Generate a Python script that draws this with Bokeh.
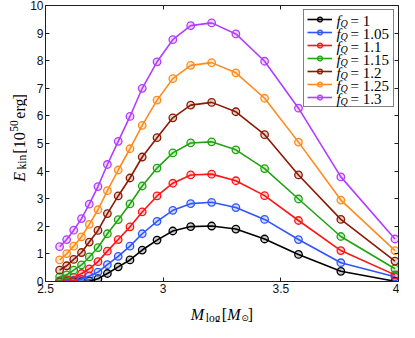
import math
from bokeh.plotting import figure
from bokeh.layouts import column, row
from bokeh.models import (Range1d, LinearAxis, FixedTicker, NumeralTickFormatter,
                          Legend, LegendItem, Label, ColumnDataSource)
from bokeh.core.properties import value
from bokeh.embed import file_html
from bokeh.resources import INLINE

# ---------------- data ----------------
m_log = [2.560, 2.590, 2.620, 2.653, 2.686, 2.723, 2.763, 2.809, 2.859, 2.911,
         2.974, 3.041, 3.117, 3.206, 3.309, 3.431, 3.575, 3.755, 3.985]

e_fq100 = [0.00, 0.00, 0.00, 0.00, 0.02, 0.10, 0.29, 0.53, 0.78, 1.14,
           1.50, 1.83, 1.99, 2.01, 1.90, 1.54, 0.98, 0.37, 0.01]
e_fq105 = [0.02, 0.03, 0.05, 0.08, 0.20, 0.34, 0.61, 0.91, 1.28, 1.73,
           2.18, 2.58, 2.82, 2.87, 2.68, 2.25, 1.52, 0.68, 0.17]
e_fq110 = [0.01, 0.07, 0.15, 0.29, 0.46, 0.72, 1.10, 1.52, 1.98, 2.52,
           3.10, 3.56, 3.86, 3.89, 3.65, 3.11, 2.21, 1.12, 0.24]
e_fq115 = [0.17, 0.24, 0.41, 0.60, 0.89, 1.23, 1.73, 2.24, 2.81, 3.46,
           4.11, 4.66, 5.02, 5.06, 4.77, 4.09, 2.99, 1.63, 0.46]
e_fq120 = [0.41, 0.57, 0.80, 1.05, 1.43, 1.85, 2.46, 3.10, 3.75, 4.51,
           5.21, 5.93, 6.39, 6.49, 6.15, 5.32, 3.86, 2.25, 0.74]
e_fq125 = [0.78, 1.01, 1.28, 1.62, 2.07, 2.60, 3.29, 4.04, 4.81, 5.66,
           6.57, 7.35, 7.83, 7.93, 7.56, 6.64, 5.05, 2.95, 1.12]
e_fq130 = [1.26, 1.52, 1.86, 2.28, 2.80, 3.44, 4.24, 5.08, 5.98, 7.00,
           7.96, 8.76, 9.27, 9.37, 8.97, 7.98, 6.28, 3.79, 1.54]

fq_labels = ["1", "1.05", "1.1", "1.15", "1.2", "1.25", "1.3"]
series = [e_fq100, e_fq105, e_fq110, e_fq115, e_fq120, e_fq125, e_fq130]
colors = ["#000000", "#2f55ff", "#ff1414", "#22a312", "#8a1a02", "#ff8a1e", "#b23cff"]

x_ticks = [2.5, 3, 3.5, 4]
y_ticks = [0, 1, 2, 3, 4, 5, 6, 7, 8, 9, 10]

# ---------------- layout ----------------
YLW = 27            # width of the y-label strip
XLH = 24            # height of the x-label strip
W, H = 399 - YLW, 322 - XLH
ML, MR, MT, MB = 16, 1, 5, 17
FW, FH = W - ML - MR, H - MT - MB
AX = "#1e1e1e"
SERIF = "Liberation Serif"

p = figure(width=W, height=H, x_range=Range1d(2.5, 4), y_range=Range1d(0, 10),
           output_backend="svg", toolbar_location=None,
           x_axis_location=None, y_axis_location=None,
           min_border_left=ML, min_border_right=MR, min_border_top=MT, min_border_bottom=MB)
p.outline_line_color = None
for g in list(p.xgrid) + list(p.ygrid):
    g.visible = False


def make_axis(ticks, show):
    ax = LinearAxis(ticker=FixedTicker(ticks=ticks),
                    formatter=NumeralTickFormatter(format="0.[0]"),
                    axis_line_color=AX, axis_line_width=1,
                    major_tick_line_color=AX, major_tick_in=4, major_tick_out=0,
                    minor_tick_line_color=None,
                    major_label_text_font="Liberation Sans",
                    major_label_text_font_size="12px",
                    major_label_text_color="#111111",
                    major_label_standoff=2)
    if not show:
        ax.major_label_text_color = None
        ax.major_label_text_font_size = "1px"
        ax.major_label_standoff = 0
    return ax


p.add_layout(make_axis(x_ticks, True), "below")
p.add_layout(make_axis(y_ticks, True), "left")
p.add_layout(make_axis(x_ticks, False), "above")
p.add_layout(make_axis(y_ticks, False), "right")

items = []
for vals, col in zip(series, colors):
    src = ColumnDataSource(dict(x=m_log, y=vals))
    lr = p.line("x", "y", source=src, line_color=col, line_width=1.6)
    sr = p.scatter("x", "y", source=src, marker="circle", size=7.5,
                   line_color=col, line_width=1.3, fill_color=col, fill_alpha=0.2)
    items.append(LegendItem(label=value(" "), renderers=[lr, sr]))

leg = Legend(items=items, location="top_right", margin=4, padding=3, spacing=1,
             glyph_width=25, glyph_height=12, label_height=12, label_width=56,
             label_standoff=2, label_text_font_size="8px",
             border_line_color="black", border_line_width=1,
             background_fill_alpha=0.0)
p.add_layout(leg)


def lab(fig, text, x, y, size, style="normal", font=SERIF, angle=0.0, units="screen"):
    fig.add_layout(Label(x=x, y=y, x_units=units, y_units=units, text=text,
                         text_font=font, text_font_size=f"{size}px",
                         text_font_style=style, text_color="black",
                         text_align="left", text_baseline="alphabetic", angle=angle))


# legend texts  f_Q = value  (frame-relative screen units)
x0 = FW - 64
for i, v in enumerate(fq_labels):
    by = FH - 15 - 13 * i
    lab(p, "f", x0, by, 15, "italic")
    lab(p, "Q", x0 + 4.0, by - 3, 10, "italic")
    lab(p, "= " + v, x0 + 14.0, by, 15)


def strip(w, h):
    f = figure(width=w, height=h, x_range=Range1d(0, w), y_range=Range1d(0, h),
               output_backend="svg", toolbar_location=None,
               x_axis_location=None, y_axis_location=None, min_border=0)
    f.outline_line_color = None
    for g in list(f.xgrid) + list(f.ygrid):
        g.visible = False
    return f


# x-axis label  M_log[M_sun]
xl = strip(YLW + W, XLH)
xs = YLW + ML + 0.415 * FW
yb = 8.0
lab(xl, "M", xs, yb, 16, "italic", units="data")
lab(xl, "log", xs + 15.0, yb - 3.0, 11.5, units="data")
lab(xl, "[", xs + 31.0, yb, 16, units="data")
lab(xl, "M", xs + 36.5, yb, 16, "italic", units="data")
lab(xl, "\u2299", xs + 50.5, yb - 3.0, 9, font="DejaVu Sans", units="data")
lab(xl, "]", xs + 57.0, yb, 16, units="data")

# y-axis label  E_kin[10^50 erg]  (rotated)
yl = strip(YLW, H)
bx = 18.5
rot = math.pi / 2
s = FH / 292.0
b0 = MB
lab(yl, "E", bx, b0 + 96 * s, 16, "italic", angle=rot, units="data")
lab(yl, "kin", bx + 3.2, b0 + 110 * s, 11.5, angle=rot, units="data")
lab(yl, "[10", bx, b0 + 128 * s, 16, angle=rot, units="data")
lab(yl, "50", bx - 4.8, b0 + 153 * s, 11.5, angle=rot, units="data")
lab(yl, "erg", bx, b0 + 168 * s, 16, angle=rot, units="data")
lab(yl, "]", bx, b0 + 190 * s, 16, angle=rot, units="data")

layout = column(row(yl, p, spacing=0), xl, spacing=0)
open("out.html", "w").write(file_html(layout, INLINE))
